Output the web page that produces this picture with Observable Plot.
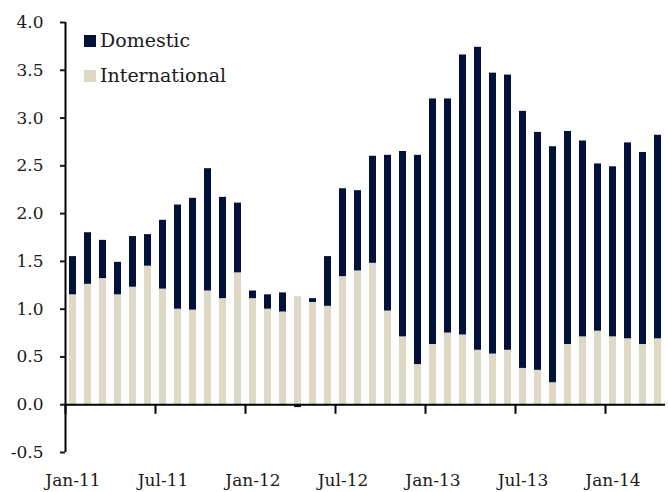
<!DOCTYPE html>
<html>
<head>
<meta charset="utf-8">
<script src="https://cdn.jsdelivr.net/npm/d3@7"></script>
<script src="https://cdn.jsdelivr.net/npm/@observablehq/plot@0.6"></script>
<style>
  html, body { margin: 0; padding: 0; background: #fff; }
  #wrap { position: relative; width: 668px; height: 492px; font-family: "DejaVu Serif", serif; }
  .legend { position: absolute; left: 84px; font-size: 19px; color: #1a1a1a; line-height: 1; }
  .legend span.sw { display: inline-block; width: 12px; height: 12px; margin-right: 4px; vertical-align: 0px; }
</style>
</head>
<body>
<div id="wrap">
  <div id="chart"></div>
  <div class="legend" style="top:31px"><span class="sw" style="background:#01113a"></span>Domestic</div>
  <div class="legend" style="top:66px"><span class="sw" style="background:#ddd9c4"></span>International</div>
</div>
<script>
const months = ["Jan-11","Feb-11","Mar-11","Apr-11","May-11","Jun-11","Jul-11","Aug-11","Sep-11","Oct-11","Nov-11","Dec-11",
  "Jan-12","Feb-12","Mar-12","Apr-12","May-12","Jun-12","Jul-12","Aug-12","Sep-12","Oct-12","Nov-12","Dec-12",
  "Jan-13","Feb-13","Mar-13","Apr-13","May-13","Jun-13","Jul-13","Aug-13","Sep-13","Oct-13","Nov-13","Dec-13",
  "Jan-14","Feb-14","Mar-14","Apr-14"];
const international = [1.15,1.26,1.32,1.15,1.23,1.45,1.21,1.00,0.99,1.19,1.11,1.38,
  1.11,1.00,0.97,1.13,1.07,1.03,1.34,1.40,1.48,0.98,0.71,0.42,
  0.63,0.75,0.73,0.57,0.53,0.57,0.38,0.36,0.23,0.63,0.71,0.77,
  0.71,0.69,0.63,0.69];
const domestic = [0.40,0.54,0.40,0.34,0.53,0.33,0.72,1.09,1.17,1.28,1.06,0.73,
  0.08,0.15,0.20,-0.03,0.04,0.52,0.92,0.84,1.12,1.63,1.94,2.19,
  2.57,2.45,2.93,3.17,2.94,2.88,2.69,2.49,2.47,2.23,2.05,1.75,
  1.78,2.05,2.01,2.13];
const series = ["International", "Domestic"];
const colors = ["#ddd9c4", "#01113a"];
const tickMonths = months.filter((m, i) => i % 6 === 0);
const yTicks = [-0.5,0,0.5,1,1.5,2,2.5,3,3.5,4];

const rows = [
  ...months.map((m, i) => ({month: m, series: "International", value: international[i]})),
  ...months.map((m, i) => ({month: m, series: "Domestic", value: domestic[i]}))
];

const chart = Plot.plot({
  width: 668,
  height: 492,
  marginLeft: 65,
  marginRight: 3,
  marginTop: 22,
  marginBottom: 40,
  style: {fontFamily: "DejaVu Serif, serif", fontSize: "17px", color: "#1a1a1a", background: "#fff"},
  x: {domain: months, paddingInner: 0.55, paddingOuter: 0.275, axis: null},
  y: {domain: [-0.5, 4.0], axis: null},
  color: {domain: series, range: colors},
  marks: [
    Plot.barY(rows, {x: "month", y: "value", fill: "series", order: series}),
    Plot.ruleY([0], {stroke: "#000", strokeWidth: 2}),
    Plot.ruleX(tickMonths, {x: d => d, y1: 0, y2: -0.1, dx: -7.5, stroke: "#000", strokeWidth: 2}),
    Plot.axisY({ticks: yTicks, tickFormat: d => d.toFixed(1), tickSize: 5, tickPadding: 17, strokeWidth: 2, fontSize: 17, label: null}),
    Plot.ruleX([0], {x: () => months[0], dx: -7.5, y1: -0.5, y2: 4.0, stroke: "#000", strokeWidth: 2}),
    Plot.axisX({ticks: tickMonths, tickSize: 0, tickPadding: 21, fontSize: 17, anchor: "bottom", label: null})
  ]
});
document.getElementById("chart").appendChild(chart);
</script>
</body>
</html>
